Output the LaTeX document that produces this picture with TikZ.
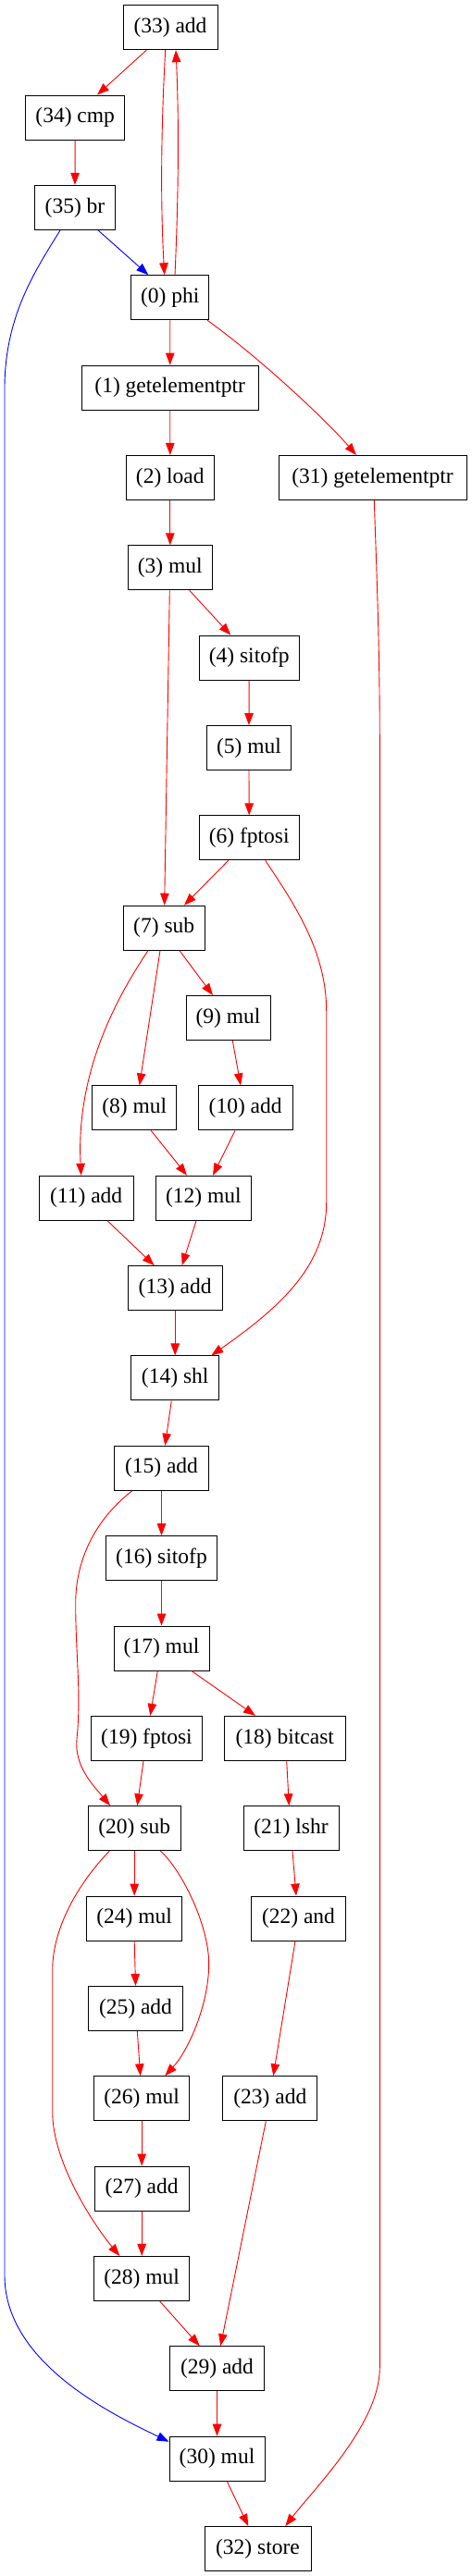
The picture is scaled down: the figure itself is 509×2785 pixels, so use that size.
\documentclass[tikz,border=0pt]{standalone}
\usepackage{fontspec}
\setmainfont{Liberation Serif}
\usetikzlibrary{arrows.meta}
\begin{document}
\begin{tikzpicture}[x=1pt,y=-1pt,
  box/.style={draw=black, line width=1pt, rectangle, minimum height=48pt, inner sep=0pt, font=\fontsize{23.5}{28}\selectfont},
  re/.style={draw=red, line width=0.9pt, -{Triangle[length=13pt,width=9.5pt]}},
  be/.style={draw=blue, line width=0.9pt, -{Triangle[length=13pt,width=9.5pt]}}]
\useasboundingbox (0,0) rectangle (509,2785);
% nodes
\node[box, minimum width=102pt] (n33) at (184,29.7) {(33) add};
\node[box, minimum width=107pt] (n34) at (81.2,127.05) {(34) cmp};
\node[box, minimum width=86.6pt] (n35) at (81,224.4) {(35) br};
\node[box, minimum width=84.3pt] (n0) at (183.8,321.75) {(0) phi};
\node[box, minimum width=190.7pt] (n1) at (183.7,419.1) {(1) getelementptr};
\node[box, minimum width=95pt] (n2) at (183.8,516.45) {(2) load};
\node[box, minimum width=203pt] (n31) at (402.5,516.45) {(31) getelementptr};
\node[box, minimum width=91pt] (n3) at (183.8,613.8) {(3) mul};
\node[box, minimum width=108.3pt] (n4) at (269.2,711.15) {(4) sitofp};
\node[box, minimum width=91.3pt] (n5) at (269,808.5) {(5) mul};
\node[box, minimum width=108.3pt] (n6) at (269.2,905.85) {(6) fptosi};
\node[box, minimum width=88.3pt] (n7) at (177.2,1003.2) {(7) sub};
\node[box, minimum width=91pt] (n9) at (246.5,1100.55) {(9) mul};
\node[box, minimum width=91pt] (n8) at (145.2,1197.9) {(8) mul};
\node[box, minimum width=101.7pt] (n10) at (265.2,1197.9) {(10) add};
\node[box, minimum width=101.7pt] (n11) at (93.2,1295.25) {(11) add};
\node[box, minimum width=103pt] (n12) at (219.8,1295.25) {(12) mul};
\node[box, minimum width=101.7pt] (n13) at (189.2,1392.6) {(13) add};
\node[box, minimum width=95pt] (n14) at (189.2,1489.95) {(14) shl};
\node[box, minimum width=101.7pt] (n15) at (174.5,1587.3) {(15) add};
\node[box, minimum width=120.3pt] (n16) at (174.5,1684.65) {(16) sitofp};
\node[box, minimum width=103pt] (n17) at (174.5,1782) {(17) mul};
\node[box, minimum width=120.3pt] (n19) at (158.5,1879.35) {(19) fptosi};
\node[box, minimum width=131pt] (n18) at (307.8,1879.35) {(18) bitcast};
\node[box, minimum width=100.3pt] (n20) at (145.2,1976.7) {(20) sub};
\node[box, minimum width=103pt] (n21) at (314.5,1976.7) {(21) lshr};
\node[box, minimum width=103pt] (n24) at (145.2,2074.05) {(24) mul};
\node[box, minimum width=101.7pt] (n22) at (322.5,2074.05) {(22) and};
\node[box, minimum width=101.7pt] (n25) at (146.5,2171.4) {(25) add};
\node[box, minimum width=103pt] (n26) at (153.2,2268.75) {(26) mul};
\node[box, minimum width=101.7pt] (n23) at (291.8,2268.75) {(23) add};
\node[box, minimum width=101.7pt] (n27) at (153.2,2366.1) {(27) add};
\node[box, minimum width=103pt] (n28) at (153.2,2463.45) {(28) mul};
\node[box, minimum width=101.7pt] (n29) at (234.5,2560.8) {(29) add};
\node[box, minimum width=103pt] (n30) at (234.5,2658.15) {(30) mul};
\node[box, minimum width=115pt] (n32) at (278.5,2755.5) {(32) store};
% edges
\draw[re] ([xshift=-25.7pt]n33.south) -- ([xshift=23.8pt]n34.north);
\draw[re] ([xshift=-5.3pt]n33.south) .. controls +(-4.5,80) and +(-4.5,-80) .. ([xshift=-6.1pt]n0.north);
\draw[re] ([xshift=5.2pt]n0.north) .. controls +(3.7,-80) and +(3.7,80) .. ([xshift=6pt]n33.south);
\draw[re] (n34.south) -- (n35.north);
\draw[be] ([xshift=25pt]n35.south) -- ([xshift=-23.5pt]n0.north);
\draw[be] ([xshift=-16pt]n35.south) .. controls (40,290) and (5,340) .. (5,420) -- (5,2460) .. controls (5,2555) and (123,2611) .. ([yshift=18.4pt]n30.west);
\draw[re] (n0.south) -- (n1.north);
\draw[re] ([xshift=40.2pt]n0.south) .. controls (279,385.7) and (350,451.7) .. ([xshift=-17.5pt]n31.north);
\draw[re] (n1.south) -- (n2.north);
\draw[re] ([xshift=1.8pt]n31.south) .. controls (407,620) and (410.3,700) .. (410.3,800) -- (410.3,2560) .. controls (410.3,2620) and (340,2690) .. ([xshift=29.8pt]n32.north);
\draw[re] (n2.south) -- (n3.north);
\draw[re] ([xshift=20.9pt]n3.south) -- ([xshift=-19.9pt]n4.north);
\draw[re] ([xshift=-0.5pt]n3.south) -- ([xshift=0.5pt]n7.north);
\draw[re] (n4.south) -- (n5.north);
\draw[re] (n5.south) -- (n6.north);
\draw[re] ([xshift=-22.5pt]n6.south) -- ([xshift=21.8pt]n7.north);
\draw[re] ([xshift=17.5pt]n6.south) .. controls (320,980) and (352.7,1030) .. (352.7,1093) -- (352.7,1300) .. controls (352.7,1370) and (300,1415) .. ([xshift=39.1pt]n14.north);
\draw[re] ([xshift=16.8pt]n7.south) -- ([xshift=-16.5pt]n9.north);
\draw[re] ([xshift=-4.2pt]n7.south) -- ([xshift=5.5pt]n8.north);
\draw[re] ([xshift=-17.2pt]n7.south) .. controls (125,1080) and (82,1160) .. ([xshift=-5.5pt]n11.north);
\draw[re] ([xshift=4.8pt]n9.south) -- ([xshift=-5.2pt]n10.north);
\draw[re] ([xshift=18.1pt]n8.south) -- ([xshift=-17.8pt]n12.north);
\draw[re] ([xshift=-11.2pt]n10.south) -- ([xshift=10.2pt]n12.north);
\draw[re] ([xshift=22.8pt]n11.south) -- ([xshift=-22.5pt]n13.north);
\draw[re] ([xshift=-7.8pt]n12.south) -- ([xshift=7.5pt]n13.north);
\draw[re] (n13.south) -- (n14.north);
\draw[re] ([xshift=-3.9pt]n14.south) -- ([xshift=3.8pt]n15.north);
\draw[re] (n15.south) -- (n16.north);
\draw[re] ([xshift=-31.8pt]n15.south) .. controls (100,1645) and (81.7,1690) .. (81.7,1733.3) .. controls (81.7,1790) and (88,1830) .. (83,1880) .. controls (80,1910) and (101.6,1931) .. ([xshift=-26.2pt]n20.north);
\draw[re] (n16.south) -- (n17.north);
\draw[re] ([xshift=-4.2pt]n17.south) -- ([xshift=3.8pt]n19.north);
\draw[re] ([xshift=32.5pt]n17.south) -- ([xshift=-31.8pt]n18.north);
\draw[re] ([xshift=-3.5pt]n19.south) -- ([xshift=3.1pt]n20.north);
\draw[re] ([xshift=1.9pt]n18.south) -- ([xshift=-2.2pt]n21.north);
\draw[re] (n20.south) -- (n24.north);
\draw[re] ([xshift=28.1pt]n20.south) .. controls (195,2020) and (225.7,2080) .. (225.7,2123.3) .. controls (225.7,2165) and (205,2215) .. ([xshift=25.1pt]n26.north);
\draw[re] ([xshift=-26.9pt]n20.south) .. controls (90,2030) and (56.7,2080) .. (56.7,2130) -- (56.7,2283) .. controls (56.7,2340) and (104.3,2409) .. ([xshift=-23.9pt]n28.north);
\draw[re] ([xshift=1.5pt]n21.south) -- ([xshift=-2.5pt]n22.north);
\draw[re] ([xshift=-3.5pt]n22.south) -- ([xshift=3.5pt]n23.north);
\draw[re] (n24.south) -- (n25.north);
\draw[re] ([xshift=1.8pt]n25.south) -- ([xshift=-1.5pt]n26.north);
\draw[re] ([xshift=-4.5pt]n23.south) -- ([xshift=3.8pt]n29.north);
\draw[re] (n26.south) -- (n27.north);
\draw[re] (n27.south) -- (n28.north);
\draw[re] ([xshift=19.5pt]n28.south) -- ([xshift=-18.8pt]n29.north);
\draw[re] (n29.south) -- (n30.north);
\draw[re] ([xshift=10.8pt]n30.south) -- ([xshift=-10.2pt]n32.north);
\end{tikzpicture}
\end{document}
